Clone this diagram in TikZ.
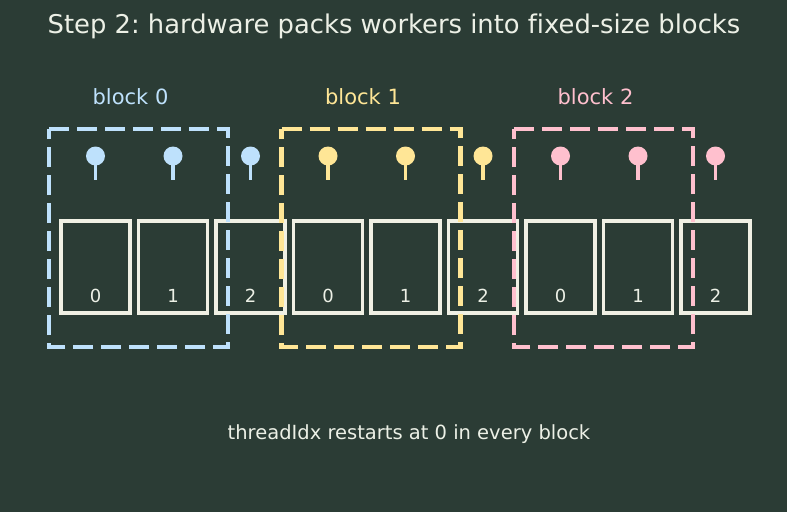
\documentclass[tikz,border=0pt]{standalone}
\usepackage{fontspec}
\setmainfont[Ligatures={NoCommon}]{DejaVu Sans}
\usetikzlibrary{calc}
\frenchspacing
\definecolor{bg}{RGB}{43,60,53}
\definecolor{fg}{RGB}{236,240,230}
\definecolor{cblue}{RGB}{190,225,252}
\definecolor{cyellow}{RGB}{255,230,150}
\definecolor{cpink}{RGB}{255,192,206}
\definecolor{boxw}{RGB}{240,240,228}
\begin{document}
\begin{tikzpicture}[x=1pt,y=-1pt,
  slot/.style={draw=boxw,line width=3.8pt,minimum width=69pt,minimum height=92pt,inner sep=0pt,outer sep=0pt,anchor=north west},
  blockbox/.style={dash pattern=on 20pt off 8pt,line width=4.5pt},
  pinhead/.style={circle,inner sep=0pt,outer sep=0pt,minimum size=19pt},
  numlbl/.style={text=fg,font=\fontsize{18}{20}\selectfont},
  blocklbl/.style={font=\fontsize{21}{24}\selectfont}]
\useasboundingbox (0,0) rectangle (787,512);
\fill[bg] (0,0) rectangle (787,512);
\node[text=fg,font=\fontsize{25.8}{30}\selectfont] (title) at (394,26) {Step 2: hardware packs workers into fixed-size blocks};
\node[text=fg,font=\fontsize{19.5}{23}\selectfont] (note) at (409,434) {threadIdx restarts at 0 in every block};
\foreach \k/\c in {0/cblue,1/cyellow,2/cpink}{
  \node[blocklbl,text=\c] (lbl\k) at (130.5+232.5*\k,97) {block \k};
  \foreach \j in {0,1,2}{
    \pgfmathsetmacro{\xx}{61+77.5*(3*\k+\j)}
    \node[slot] (s\k\j) at (\xx,221) {};
    \node[numlbl] (n\k\j) at ($(s\k\j.north)+(0,75)$) {\j};
    \coordinate (st\k\j) at ($(s\k\j.north)+(0,-41)$);
    \node[pinhead,fill=\c] (p\k\j) at ($(s\k\j.north)+(0,-65)$) {};
    \draw[\c,line width=3.5pt] (p\k\j.center) -- (st\k\j);
  }
}
\foreach \k/\c in {0/cblue,1/cyellow,2/cpink}{
  \draw[blockbox,draw=\c] (49+232.5*\k,129) -- (228+232.5*\k,129) -- (228+232.5*\k,347) -- (49+232.5*\k,347) -- cycle;
}
\end{tikzpicture}
\end{document}
